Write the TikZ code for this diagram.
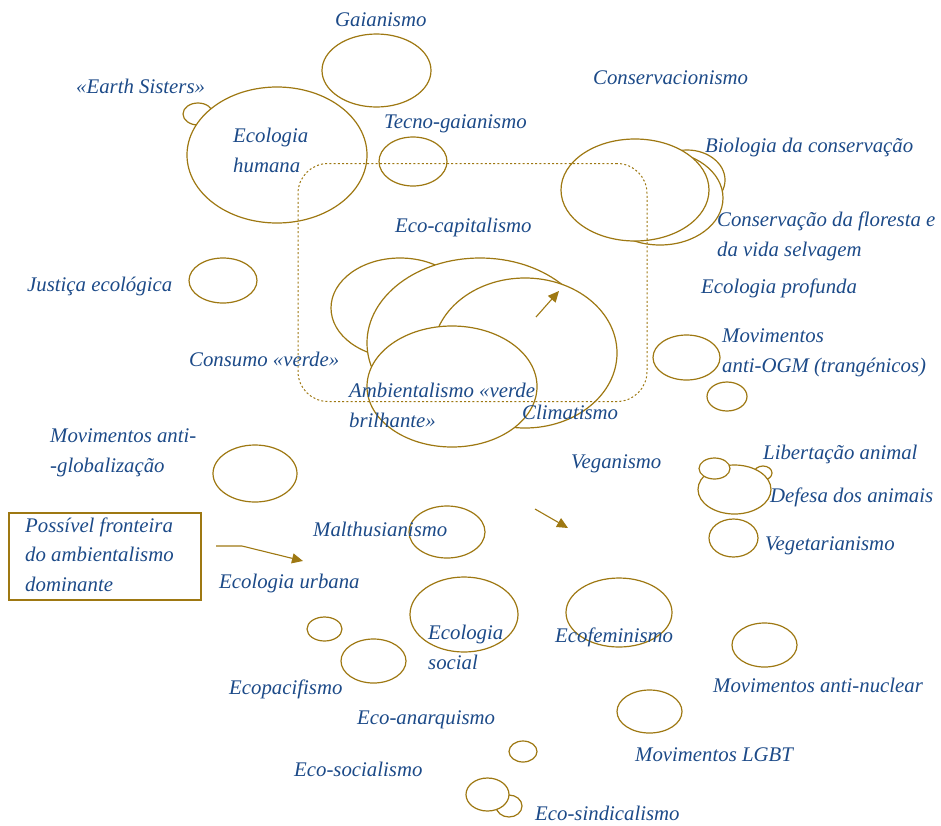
\documentclass[tikz,border=0pt]{standalone}
\usepackage{fontspec}
\setmainfont{Liberation Serif}
\usetikzlibrary{shapes.geometric,arrows.meta}
\definecolor{txtblue}{RGB}{28,74,136}
\definecolor{gold}{RGB}{158,120,18}
\tikzset{
  ell/.style={ellipse, draw=gold, fill=white, line width=1.2pt, inner sep=0pt},
  lbl/.style={text=txtblue, font=\fontsize{20.8}{29.5}\selectfont\itshape, inner sep=0pt, anchor=base west, align=left},
  arr/.style={draw=gold, line width=1.1pt, -{Triangle[length=11pt,width=10pt]}},
}
\newcommand{\E}[5]{\node[ell, minimum width=#4pt, minimum height=#5pt] (#1) at (#2,#3) {};}
\begin{document}
\begin{tikzpicture}[x=1pt,y=-1pt]
\useasboundingbox (0,0) rectangle (941,825);
% ellipses
\E{gai}{376.5}{70.5}{109}{73}
\E{earth}{198}{114}{30}{22}
\E{hum}{277}{155}{180}{136}
\E{tecno}{413}{161.5}{68}{49}
\E{bio}{687}{180}{76}{60}
\E{flor}{660}{198}{126}{94}
\E{cons}{635}{190}{148}{102}
\E{just}{223}{280.5}{68}{45}
\E{consumo}{400}{308}{138}{100}
\E{ecocap}{480}{343}{226}{170}
\E{clima}{525}{353}{184}{150}
\E{amb}{452}{386.5}{170}{121}
\E{ogm}{686.5}{357.5}{67}{45}
\E{ogmb}{727}{396.5}{40}{29}
\E{libr}{763}{473}{18}{14}
\E{def}{734.5}{489.5}{73}{49}
\E{lib}{714.5}{468.5}{31}{21}
\E{veget}{733.5}{538}{49}{38}
\E{glob}{255}{473.5}{84}{57}
\E{malth}{447}{532}{76}{52}
\E{urb}{324.5}{629}{35}{24}
\E{paci}{373.5}{661}{65}{44}
\E{soc}{464}{614.5}{108}{75}
\E{anar}{523}{751.5}{28}{21}
\E{sindb}{509}{806}{26}{22}
\E{sind}{487.5}{794.5}{43}{33}
\E{femi}{619}{612.5}{106}{69}
\E{nucl}{764.5}{645}{65}{44}
\E{lgbt}{649.5}{711.5}{65}{43}
% dotted frame
\node[draw=gold, line width=1pt, dash pattern=on 2pt off 2.2pt, rounded corners=30pt,
  minimum width=349pt, minimum height=238pt, inner sep=0pt] (frame) at (472.5,282.5) {};
% arrows
\coordinate (a1s) at (536,317);
\coordinate (a1e) at (559,291);
\draw[arr] (a1s) -- (a1e);
\coordinate (a2s) at (535,509);
\coordinate (a2e) at (568,528);
\draw[arr] (a2s) -- (a2e);
% box
\node[draw=gold, line width=2pt, minimum width=192pt, minimum height=87pt, inner sep=0pt] (box) at (105,556.5) {};
\node[lbl] (boxt) at (25,591) {Possível fronteira\\do ambientalismo\\dominante};
\coordinate (a3s) at (216,546);
\coordinate (a3m) at (242,546);
\coordinate (a3e) at (303,561);
\draw[arr] (a3s) -- (a3m) -- (a3e);
% labels
\node[lbl] (t1) at (335,26) {Gaianismo};
\node[lbl] (t2) at (76,93) {«Earth Sisters»};
\node[lbl] (t3) at (233,172) {Ecologia\\humana};
\node[lbl] (t4) at (384,128) {Tecno-gaianismo};
\node[lbl] (t5) at (593,84) {Conservacionismo};
\node[lbl] (t6) at (705,152) {Biologia da conservação};
\node[lbl] (t7) at (717,256) {Conservação da floresta e\\da vida selvagem};
\node[lbl] (t8) at (395,232) {Eco-capitalismo};
\node[lbl] (t9) at (27,291) {Justiça ecológica};
\node[lbl] (t10) at (701,293) {Ecologia profunda};
\node[lbl] (t11) at (722,372) {Movimentos\\anti-OGM (trangénicos)};
\node[lbl] (t12) at (189,366) {Consumo «verde»};
\node[lbl] (t13) at (349,427) {Ambientalismo «verde\\brilhante»};
\node[lbl] (t14) at (522,419) {Climatismo};
\node[lbl] (t15) at (50,472) {Movimentos anti-\\-globalização};
\node[lbl] (t16) at (571,468) {Veganismo};
\node[lbl] (t17) at (763,459) {Libertação animal};
\node[lbl] (t18) at (770,502) {Defesa dos animais};
\node[lbl] (t19) at (765,550) {Vegetarianismo};
\node[lbl] (t20) at (313,536) {Malthusianismo};
\node[lbl] (t21) at (219,588) {Ecologia urbana};
\node[lbl] (t22) at (428,669) {Ecologia\\social};
\node[lbl] (t23) at (555,642) {Ecofeminismo};
\node[lbl] (t24) at (229,694) {Ecopacifismo};
\node[lbl] (t25) at (713,692) {Movimentos anti-nuclear};
\node[lbl] (t26) at (357,724) {Eco-anarquismo};
\node[lbl] (t27) at (635,761) {Movimentos LGBT};
\node[lbl] (t28) at (294,776) {Eco-socialismo};
\node[lbl] (t29) at (535,820) {Eco-sindicalismo};
\end{tikzpicture}
\end{document}
